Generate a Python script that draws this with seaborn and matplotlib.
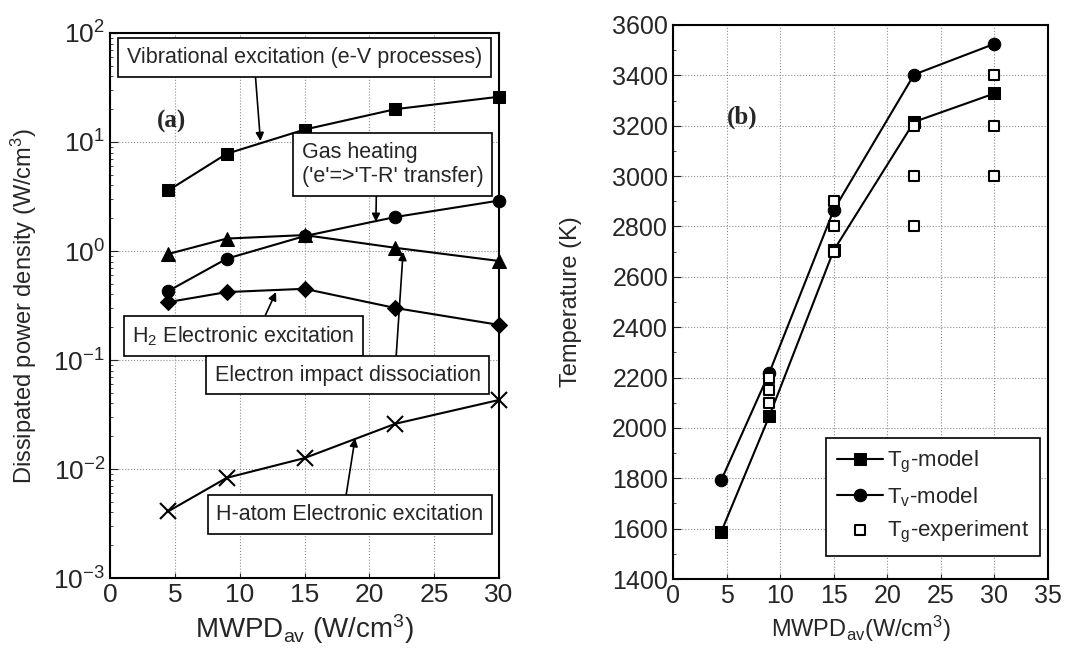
import matplotlib.pyplot as plt
import seaborn as sns

# Panel (a) data: dissipated power density vs MWPD
mwpd_a = [4.5, 9, 15, 22, 30]
vib_exc = [3.6, 7.8, 13, 20, 26]
dissoc = [0.94, 1.3, 1.4, 1.07, 0.81]
gas_heat = [0.43, 0.85, 1.37, 2.05, 2.9]
h2_exc = [0.34, 0.42, 0.45, 0.30, 0.21]
h_atom = [0.0041, 0.0083, 0.0126, 0.026, 0.043]

# Panel (b) data: temperatures
mwpd_b = [4.5, 9, 15, 22.5, 30]
tg_model = [1587, 2048, 2705, 3215, 3328]
tv_model = [1792, 2220, 2865, 3403, 3525]
exp_x = [9, 9, 9, 15, 15, 15, 22.5, 22.5, 22.5, 30, 30, 30]
exp_y = [2200, 2150, 2100, 2900, 2800, 2700, 3200, 3000, 2800, 3400, 3200, 3000]

sns.set_style('ticks')
plt.rcParams['font.family'] = ['Liberation Sans', 'DejaVu Sans']
plt.rcParams['mathtext.default'] = 'regular'

fig = plt.figure(figsize=(10.83, 6.57), dpi=100)
ax1 = fig.add_axes([0.1016, 0.1202, 0.3592, 0.8296])
ax2 = fig.add_axes([0.6214, 0.1187, 0.3463, 0.8433])

grid_kw = dict(color='0.55', linestyle=':', linewidth=0.8)
line_kw = dict(color='black', linewidth=1.5, markeredgecolor='black', clip_on=False)

# ---- panel (a)
sns.lineplot(x=mwpd_a, y=vib_exc, marker='s', markersize=9, ax=ax1, **line_kw)
sns.lineplot(x=mwpd_a, y=dissoc, marker='^', markersize=10, ax=ax1, **line_kw)
sns.lineplot(x=mwpd_a, y=gas_heat, marker='o', markersize=9, ax=ax1, **line_kw)
sns.lineplot(x=mwpd_a, y=h2_exc, marker='D', markersize=8, ax=ax1, **line_kw)
sns.lineplot(x=mwpd_a, y=h_atom, marker='x', markersize=11, markeredgewidth=1.5,
             ax=ax1, **line_kw)

ax1.set_yscale('log')
ax1.set_xlim(0, 30)
ax1.set_ylim(1e-3, 1e2)
ax1.set_xticks(range(0, 31, 5))
ax1.grid(True, which='major', **grid_kw)
ax1.set_xlabel('MWPD$_{av}$ (W/cm$^3$)', fontsize=20)
ax1.set_ylabel('Dissipated power density (W/cm$^3$)', fontsize=17, labelpad=10)
ax1.tick_params(axis='both', which='both', direction='in', labelsize=19)
ax1.tick_params(axis='y', which='major', length=6)
ax1.text(3.6, 15.5, '(a)', fontsize=18, fontweight='bold', family='Liberation Serif',
         ha='left', va='center')

box = dict(boxstyle='square,pad=0.4', fc='white', ec='black', lw=1.2)
arrow = lambda rp: dict(arrowstyle='-|>', color='black', lw=1.2, mutation_scale=12,
                        relpos=rp, shrinkA=0, shrinkB=0)
fs_box = 15.5

ax1.annotate('Vibrational excitation (e-V processes)', xy=(11.6, 10.2),
             xytext=(0.50, 0.955), textcoords='axes fraction', ha='center', va='center',
             fontsize=fs_box, bbox=box, arrowprops=arrow((0.36, 0)))
ax1.annotate("Gas heating\n('e'=>'T-R' transfer)", xy=(20.5, 1.85),
             xytext=(0.727, 0.759), textcoords='axes fraction', ha='center', va='center',
             multialignment='left', fontsize=fs_box, bbox=box, arrowprops=arrow((0.41, 0)))
ax1.annotate('H$_2$ Electronic excitation', xy=(12.8, 0.42),
             xytext=(0.343, 0.444), textcoords='axes fraction', ha='center', va='center',
             fontsize=fs_box, bbox=box, arrowprops=arrow((0.58, 1)))
ax1.annotate('Electron impact dissociation', xy=(22.6, 0.98),
             xytext=(0.611, 0.372), textcoords='axes fraction', ha='center', va='center',
             fontsize=fs_box, bbox=box, arrowprops=arrow((0.68, 1)))
ax1.annotate('H-atom Electronic excitation', xy=(18.9, 0.0192),
             xytext=(0.617, 0.1165), textcoords='axes fraction', ha='center', va='center',
             fontsize=fs_box, bbox=box, arrowprops=arrow((0.48, 1)))

# ---- panel (b)
sns.lineplot(x=mwpd_b, y=tg_model, marker='s', markersize=8, ax=ax2,
             label='T$_g$-model', **line_kw)
sns.lineplot(x=mwpd_b, y=tv_model, marker='o', markersize=9, ax=ax2,
             label='T$_v$-model', **line_kw)
sns.scatterplot(x=exp_x, y=exp_y, marker='s', s=60, facecolor='white',
                edgecolor='black', linewidth=1.5, ax=ax2, zorder=5,
                label='T$_g$-experiment')

ax2.set_xlim(0, 35)
ax2.set_ylim(1400, 3600)
ax2.set_xticks(range(0, 36, 5))
ax2.set_yticks(range(1400, 3601, 200))
ax2.set_yticks(range(1500, 3600, 200), minor=True)
ax2.grid(True, which='major', **grid_kw)
ax2.set_xlabel('MWPD$_{av}$(W/cm$^3$)', fontsize=17)
ax2.set_ylabel('Temperature (K)', fontsize=17, labelpad=22)
ax2.tick_params(axis='both', which='both', direction='in', labelsize=18)
ax2.tick_params(axis='y', which='major', length=6)
ax2.text(5.0, 3235, '(b)', fontsize=18, fontweight='bold', family='Liberation Serif',
         ha='left', va='center')

leg = ax2.legend(loc='lower right', bbox_to_anchor=(0.979, 0.0415), fontsize=16,
                 frameon=True, fancybox=False, framealpha=1, edgecolor='black',
                 handlelength=2.1, handletextpad=0.15, borderpad=0.5, labelspacing=0.45,
                 borderaxespad=0)
leg.get_frame().set_linewidth(1.2)

for ax in (ax1, ax2):
    for sp in ax.spines.values():
        sp.set_visible(True)
        sp.set_linewidth(1.5)
        sp.set_color('black')

fig.savefig('out.png', dpi=100)
